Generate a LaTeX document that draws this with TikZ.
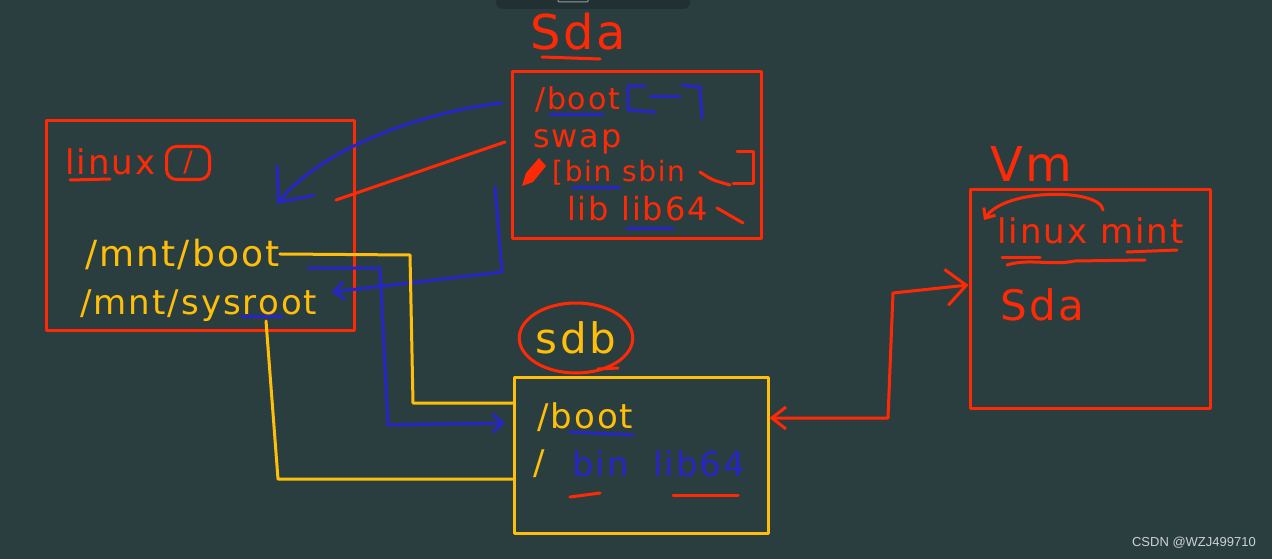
\documentclass[tikz,border=0pt]{standalone}
\usepackage{fontspec}
\usetikzlibrary{arrows.meta,shapes.geometric,calc}
\newfontfamily\hand[LetterSpace=6]{DejaVu Sans}
\newfontfamily\wmfont{Liberation Sans}
\newcommand\handfont[1]{\hand\fontsize{#1}{#1}\selectfont}
\definecolor{bg}{RGB}{42,62,64}
\definecolor{bardark}{RGB}{33,49,51}
\definecolor{barline}{RGB}{150,160,160}
\definecolor{pred}{RGB}{255,42,5}
\definecolor{pyel}{RGB}{255,190,10}
\definecolor{pblue}{RGB}{38,38,198}
\definecolor{wmgray}{RGB}{205,210,210}
\begin{document}
\begin{tikzpicture}[x=1pt,y=-1pt,line cap=round,line join=round,
  pen/.style={line width=3pt},
  frame/.style={draw,line width=3pt,inner sep=0pt,rectangle},
  txt/.style={inner sep=0pt,anchor=base west}]
\fill[bg] (0,0) rectangle (1272,559);
\useasboundingbox (0,0) rectangle (1272,559);
\fill[bardark,rounded corners=7pt] (496,-12) rectangle (690,9);
\draw[barline,line width=1pt,rounded corners=1pt] (558,-3) rectangle (588,2);

% boxes
\node[frame,draw=pred,minimum width=308pt,minimum height=209pt] (linuxbox) at (200,225.5) {};
\node[frame,draw=pred,minimum width=249pt,minimum height=166pt] (sdabox) at (636.5,155) {};
\node[frame,draw=pyel,minimum width=254pt,minimum height=156pt] (sdbbox) at (641,455) {};
\node[frame,draw=pred,minimum width=240pt,minimum height=219pt] (vmbox) at (1090,298.5) {};

% linux box content
\node[txt,text=pred,font=\handfont{34}] (linuxlbl) at (65,175) {linux};
\draw[pred,pen] (70,180) -- (110,179);
\node[draw=pred,pen,rounded corners=10pt,minimum width=43pt,minimum height=33pt,inner sep=0pt,text=pred,font=\handfont{28}] (rootlbl) at (188,163) {/};
\node[txt,text=pyel,font=\handfont{36}] (mntboot) at (85,266) {/mnt/boot};
\node[txt,text=pyel,font=\handfont{34}] (mntsys) at (80,314) {/mnt/sysroot};
\draw[pblue,pen] (242,316) -- (282,316);

% sda
\node[txt,text=pred,font=\handfont{48}] (sdatitle) at (530,50) {Sda};
\draw[pred,pen] (542,57) -- (600,59);
\node[txt,text=pred,font=\handfont{30}] (sdaboot) at (535,110) {/boot};
\draw[pblue,pen] (550,115) -- (603,115);
\draw[pblue,pen] (645,86) -- (628,86) -- (628,110) -- (655,112);
\draw[pblue,pen] (650,97) -- (680,97);
\draw[pblue,pen] (682,85) -- (700,87) -- (702,118);
\node[txt,text=pred,font=\handfont{32}] (sdaswap) at (533,148) {swap};
\fill[pred] (522,186) -- (526,173) -- (539,158) -- (546,166) -- (533,182) -- cycle;
\node[txt,text=pred,font=\handfont{28}] (sdabin) at (552,182) {[bin sbin};
\draw[pblue,pen] (573,187) -- (620,187);
\draw[pred,pen] (700,172) .. controls (712,180) .. (730,185);
\draw[pred,pen] (737,152) -- (753,152) -- (753,183) -- (733,183);
\node[txt,text=pred,font=\handfont{32}] (sdalib) at (567,220) {lib lib64};
\draw[pred,pen] (717,208) -- (743,223);
\draw[pblue,pen] (627,228) -- (673,228);

% sdb
\node[draw=pred,pen,ellipse,minimum width=104pt,minimum height=70pt,inner sep=0pt,text=pyel,font=\handfont{42}] (sdblbl) at (576,338) {sdb};
\draw[pred,pen] (598,369) -- (618,368);
\node[txt,text=pyel,font=\handfont{34}] (sdbboot) at (537,428) {/boot};
\draw[pblue,pen] (570,432) -- (633,435);
\node[txt,text=pyel,font=\handfont{34}] (sdbslash) at (533,474) {/};
\node[txt,text=pblue,font=\handfont{34}] (sdbbin) at (572,476) {bin};
\node[txt,text=pblue,font=\handfont{34}] (sdblib) at (653,476) {lib64};
\draw[pred,pen] (570,497) -- (600,493);
\draw[pred,pen] (673,495) -- (738,495);

% vm
\node[txt,text=pred,font=\handfont{48}] (vmlbl) at (990,182) {Vm};
\node[txt,text=pred,font=\handfont{34}] (vmlinux) at (997,243) {linux mint};
\draw[pred,pen,-{Straight Barb[length=8pt,width=14pt]}] (1103,210) .. controls (1100,188) and (1005,188) .. (984,220);
\draw[pred,pen] (1002,257) -- (1040,257);
\draw[pred,pen] (1127,252) -- (1177,250);
\draw[pred,pen] (1007,265) .. controls (1030,258) and (1050,266) .. (1075,261) -- (1145,260);
\node[txt,text=pred,font=\handfont{42}] (vmsda) at (1000,320) {Sda};

% connectors
\coordinate (bsrc) at (502,103);
\coordinate (bdst) at (277,204);
\draw[pblue,pen,-{Straight Barb[length=28pt,width=48pt]}] (bsrc) .. controls (420,112) and (320,150) .. (bdst);
\coordinate (rsrc) at (505,142);
\coordinate (rdst) at (336,200);
\draw[pred,pen] (rsrc) -- (rdst);
\coordinate (b2src) at (495,187);
\coordinate (b2dst) at (332,292);
\draw[pblue,pen,-{Straight Barb[length=10pt,width=18pt]}] (b2src) -- (502,272) -- (b2dst);
\draw[pyel,pen] (mntboot.east) -- (410,255) -- (413,403) -- (413,403 -| sdbbox.west);
\coordinate (bb) at (308,268);
\coordinate (bbend) at (505,423);
\draw[pblue,pen,-{Straight Barb[length=10pt,width=18pt]}] (bb) -- (380,268) -- (388,425) -- (bbend);
\coordinate (ysrc) at (266,321);
\draw[pyel,pen] (ysrc) -- (278,479) -- (278,479 -| sdbbox.west);
\draw[pred,pen,{Straight Barb[length=14pt,width=22pt]}-{Straight Barb[length=20pt,width=36pt]}] (770,418 -| sdbbox.east) -- (888,418) -- (893,293) -- (978,285 -| vmbox.west);

% watermark
\node[font=\wmfont\fontsize{13}{15}\selectfont,text=wmgray,anchor=east,inner sep=0pt] (wm) at (1256,543) {CSDN @WZJ499710};
\end{tikzpicture}
\end{document}
